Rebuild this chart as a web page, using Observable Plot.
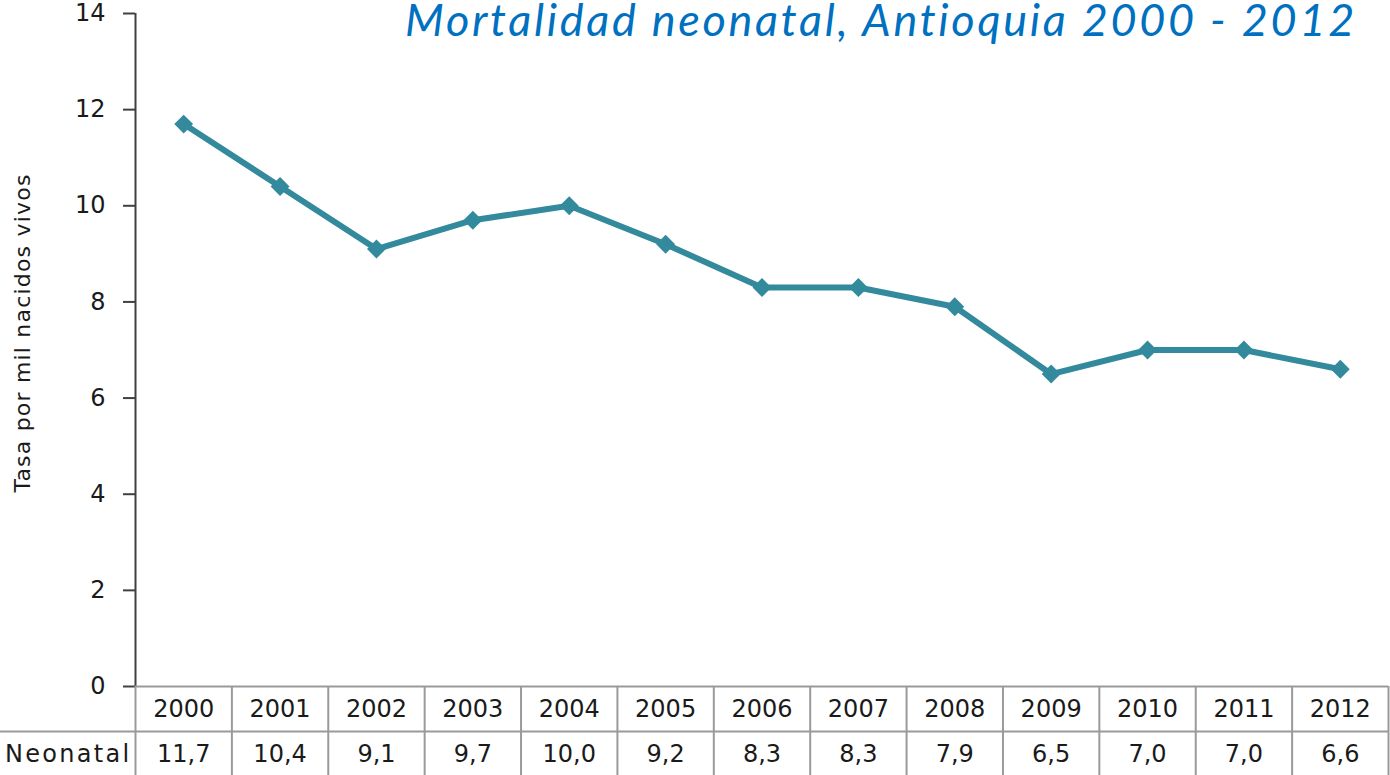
<!DOCTYPE html>
<html>
<head>
<meta charset="utf-8">
<script src="https://cdn.jsdelivr.net/npm/d3@7"></script>
<script src="https://cdn.jsdelivr.net/npm/@observablehq/plot@0.6"></script>
<style>
  html, body { margin: 0; padding: 0; background: #fff; }
  #wrap { position: relative; width: 1390px; height: 775px; overflow: hidden; }
  #title { position: absolute; right: 33px; top: 1px; line-height: 36px; font-family: Lato, "Open Sans", sans-serif; font-style: italic; font-size: 45px; letter-spacing: 2.7px; font-variant-ligatures: none; color: #0070C0; white-space: nowrap; }
  #chart, #table { position: absolute; left: 0; }
  #chart { top: 0; }
  #table { top: 685px; }
</style>
</head>
<body>
<div id="wrap">
  <div id="chart"></div>
  <div id="table"></div>
  <div id="title">Mortalidad neonatal, Antioquia 2000 - 2012</div>
</div>
<script>
const years = ["2000","2001","2002","2003","2004","2005","2006","2007","2008","2009","2010","2011","2012"];
const neonatal = [11.7, 10.4, 9.1, 9.7, 10.0, 9.2, 8.3, 8.3, 7.9, 6.5, 7.0, 7.0, 6.6];
const yTicks = [0, 2, 4, 6, 8, 10, 12, 14];
const seriesName = "Neonatal";
const yLabel = "Tasa por mil nacidos vivos";

const data = years.map((y, i) => ({year: y, i, value: neonatal[i]}));
const xDomain = [-0.5, years.length - 0.5];
const W = 1390;
const lineColor = "#338A9C";
const fontFam = "'DejaVu Sans', Verdana, sans-serif";

const chart = Plot.plot({
  width: W,
  height: 700,
  marginLeft: 135,
  marginRight: 2,
  marginTop: 13,
  marginBottom: 14,
  style: {fontFamily: fontFam, color: "#1a1a1a", background: "transparent"},
  x: {type: "linear", domain: xDomain, axis: null},
  y: {domain: [0, 14], axis: null},
  marks: [
    Plot.ruleX([xDomain[0]], {stroke: "#404040", strokeWidth: 2}),
    Plot.axisY(yTicks, {anchor: "left", tickSize: 12, tickPadding: 18, fontSize: 24, stroke: "#404040", strokeWidth: 2, strokeOpacity: 1, label: null, fill: "#1a1a1a"}),
    Plot.text([yLabel], {frameAnchor: "left", textAnchor: "middle", rotate: -90, dx: -113, dy: -17, fontSize: 22, fill: "#1a1a1a"}),
    Plot.line(data, {x: "i", y: "value", stroke: lineColor, strokeWidth: 6}),
    Plot.dot(data, {x: "i", y: "value", symbol: "diamond2", r: 8.5, fill: lineColor, stroke: null})
  ]
});
document.getElementById("chart").appendChild(chart);
d3.select(chart).selectAll("text").filter(function() { return this.textContent === yLabel; }).style("letter-spacing", "1.2px");

const bounds = d3.range(years.length + 1).map(k => k - 0.5);
const fmt = v => v.toFixed(1).replace(".", ",");
const table = Plot.plot({
  width: W,
  height: 91,
  marginLeft: 135,
  marginRight: 2,
  marginTop: 1,
  marginBottom: 0,
  style: {fontFamily: fontFam, color: "#1a1a1a", background: "transparent"},
  x: {type: "linear", domain: xDomain, axis: null},
  y: {domain: [0, 2], reverse: true, axis: null},
  marks: [
    Plot.ruleY([0], {stroke: "#9a9a9a", strokeWidth: 2}),
    Plot.ruleY([1, 2], {stroke: "#9a9a9a", strokeWidth: 2, insetLeft: -135}),
    Plot.ruleX(bounds, {stroke: "#9a9a9a", strokeWidth: 2}),
    Plot.text(data, {x: "i", y: () => 0.5, text: "year", fontSize: 24, fill: "#1a1a1a"}),
    Plot.text(data, {x: "i", y: () => 1.5, text: d => fmt(d.value), fontSize: 24, fill: "#1a1a1a"}),
    Plot.text([seriesName], {x: xDomain[0], y: () => 1.5, textAnchor: "end", dx: -4, fontSize: 24, fill: "#1a1a1a"})
  ]
});
document.getElementById("table").appendChild(table);
d3.select(table).selectAll("text").filter(function() { return this.textContent === seriesName; }).style("letter-spacing", "2.3px");
</script>
</body>
</html>
